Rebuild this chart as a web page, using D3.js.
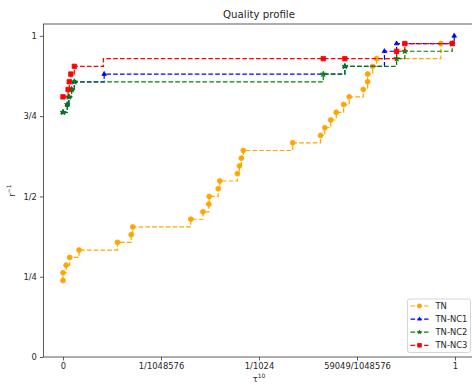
<!DOCTYPE html>
<html>
<head>
<meta charset="utf-8">
<script src="https://cdnjs.cloudflare.com/ajax/libs/d3/7.8.5/d3.min.js"></script>
<style>
  body { margin: 0; background: #fff; }
  text { font-family: "DejaVu Sans", sans-serif; fill: #262626; }
</style>
</head>
<body>
<script>
// tau values (x) and fraction of problems (y) for each solver
var tnTau   = [0, 0, 0.008, 0.017, 0.041, 0.139, 0.174, 0.178, 0.326, 0.357, 0.372, 0.373, 0.396, 0.400,
               0.445, 0.450, 0.455, 0.460, 0.586, 0.657, 0.668, 0.683, 0.697, 0.716, 0.730, 0.766,
               0.777, 0.777, 0.790, 0.800, 0.964];
var tnRatio = [0.238, 0.262, 0.286, 0.310, 0.333, 0.357, 0.381, 0.405, 0.429, 0.452, 0.476, 0.500, 0.524, 0.548,
               0.571, 0.595, 0.619, 0.643, 0.667, 0.690, 0.714, 0.738, 0.762, 0.786, 0.810, 0.833,
               0.857, 0.881, 0.905, 0.929, 0.976];

var nc1Tau   = [0, 0.011, 0.015, 0.022, 0.029, 0.105, 0.719, 0.820, 0.851, 0.998];
var nc1Ratio = [0.762, 0.786, 0.810, 0.833, 0.857, 0.881, 0.905, 0.952, 0.976, 1.0];

var nc2Tau   = [0, 0.011, 0.015, 0.022, 0.029, 0.664, 0.719, 0.851, 0.872, 0.993];
var nc2Ratio = [0.762, 0.786, 0.810, 0.833, 0.857, 0.881, 0.905, 0.929, 0.952, 0.976];

var nc3Tau   = [0, 0.013, 0.016, 0.020, 0.029, 0.103, 0.664, 0.719, 0.851, 0.872, 0.993];
var nc3Ratio = [0.810, 0.833, 0.857, 0.881, 0.905, 0.929, 0.929, 0.929, 0.952, 0.976, 0.976];
// the step at index 5 shows no marker in the picture
var nc3Unmarked = [5];

var seriesNames = ["TN", "TN-NC1", "TN-NC2", "TN-NC3"];
var seriesColors = ["orange", "blue", "green", "red"];

var xTicks = [0, 0.25, 0.5, 0.75, 1];
var xTickLabels = ["0", "1/1048576", "1/1024", "59049/1048576", "1"];
var yTicks = [0, 0.25, 0.5, 0.75, 1];
var yTickLabels = ["0", "1/4", "1/2", "3/4", "1"];

var W = 472, H = 385;
var margin = {left: 43.4, right: -2.6, top: 24, bottom: 28};
var width = W - margin.left - margin.right;
var height = H - margin.top - margin.bottom;

var series = [
  {name: seriesNames[0], color: seriesColors[0], symbol: d3.symbolCircle, size: 19, tau: tnTau, ratio: tnRatio, skip: []},
  {name: seriesNames[1], color: seriesColors[1], symbol: d3.symbolTriangle, size: 9, tau: nc1Tau, ratio: nc1Ratio, skip: []},
  {name: seriesNames[2], color: seriesColors[2], symbol: d3.symbolStar, size: 10, tau: nc2Tau, ratio: nc2Ratio, skip: []},
  {name: seriesNames[3], color: seriesColors[3], symbol: d3.symbolSquare, size: 20, tau: nc3Tau, ratio: nc3Ratio, skip: nc3Unmarked}
];

var svg = d3.select("body").append("svg")
    .attr("width", W)
    .attr("height", H);

var g = svg.append("g")
    .attr("transform", "translate(" + margin.left + "," + margin.top + ")");

var xScale = d3.scaleLinear().domain([-0.05, 1.05]).range([0, width]);
var yScale = d3.scaleLinear().domain([0, 1.0369]).range([height, 0]);

// axes
var xAxis = d3.axisBottom(xScale).tickValues(xTicks)
    .tickFormat(function(d, i) { return xTickLabels[i]; })
    .tickSize(3.5).tickPadding(3);
var yAxis = d3.axisLeft(yScale).tickValues(yTicks)
    .tickFormat(function(d, i) { return yTickLabels[i]; })
    .tickSize(3.5).tickPadding(3);

var xg = g.append("g").attr("transform", "translate(0," + height + ")").call(xAxis);
var yg = g.append("g").call(yAxis);
[xg, yg].forEach(function(a) {
  a.select(".domain").remove();
  a.selectAll("line").attr("stroke", "#333").attr("stroke-width", 0.8);
  a.selectAll("text").style("font-size", "8.4px").attr("fill", "#262626");
});

// lines
var line = d3.line()
    .curve(d3.curveStepAfter)
    .x(function(d) { return xScale(d[0]); })
    .y(function(d) { return yScale(d[1]); });

series.forEach(function(s) {
  var pts = s.tau.map(function(t, i) { return [t, s.ratio[i]]; });
  g.append("path")
    .datum(pts)
    .attr("fill", "none")
    .attr("stroke", s.color)
    .attr("stroke-width", 1.2)
    .attr("stroke-dasharray", "4.6,2.2")
    .attr("d", line);
  g.selectAll(null)
    .data(pts.filter(function(d, i) { return s.skip.indexOf(i) < 0; }))
    .enter().append("path")
    .attr("transform", function(d) { return "translate(" + xScale(d[0]) + "," + yScale(d[1]) + ")"; })
    .attr("d", d3.symbol().type(s.symbol).size(s.size))
    .attr("fill", s.color)
    .attr("stroke", s.color)
    .attr("stroke-width", 0.8);
});

// frame
g.append("rect")
  .attr("width", width).attr("height", height)
  .attr("fill", "none").attr("stroke", "#333").attr("stroke-width", 0.8);

// title and labels
svg.append("text")
  .attr("x", margin.left + width / 2).attr("y", 18)
  .attr("text-anchor", "middle")
  .style("font-size", "10.2px")
  .text("Quality profile");

var xl = svg.append("text")
  .attr("x", margin.left + width / 2).attr("y", 382)
  .attr("text-anchor", "middle")
  .style("font-size", "8.4px");
xl.append("tspan").text("\u03c4");
xl.append("tspan").attr("dy", -4).style("font-size", "6px").text("10");

var yl = svg.append("text")
  .attr("transform", "translate(14.5," + (margin.top + height / 2) + ") rotate(-90)")
  .attr("text-anchor", "middle")
  .style("font-size", "8.4px");
yl.append("tspan").text("r");
yl.append("tspan").attr("dy", -4).style("font-size", "6px").text("\u22121");

// legend
var lg = svg.append("g").attr("transform", "translate(407.5,299)");
lg.append("rect")
  .attr("width", 63).attr("height", 53.5).attr("rx", 2)
  .attr("fill", "#fff").attr("fill-opacity", 0.8)
  .attr("stroke", "#ccc").attr("stroke-width", 0.8);
var item = lg.selectAll(".item").data(series).enter().append("g")
  .attr("transform", function(d, i) { return "translate(0," + (7 + i * 13.1) + ")"; });
item.append("line")
  .attr("x1", 3).attr("x2", 21)
  .attr("stroke", function(d) { return d.color; })
  .attr("stroke-width", 1.2)
  .attr("stroke-dasharray", "4.6,2.2");
item.append("path")
  .attr("transform", "translate(12,0)")
  .attr("d", function(d) { return d3.symbol().type(d.symbol).size(d.size)(); })
  .attr("fill", function(d) { return d.color; });
item.append("text")
  .attr("x", 28).attr("y", 3)
  .style("font-size", "8.4px")
  .text(function(d) { return d.name; });
</script>
</body>
</html>
